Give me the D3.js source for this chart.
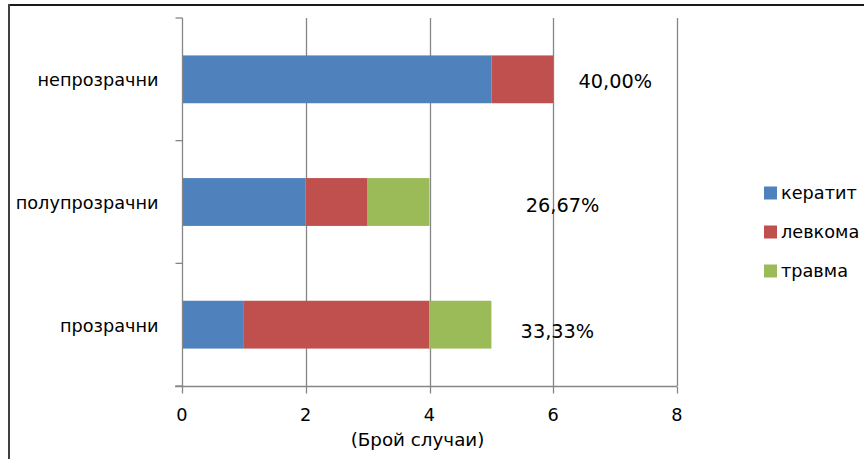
<!DOCTYPE html>
<html>
<head>
<meta charset="utf-8">
<script src="https://cdn.jsdelivr.net/npm/d3@7"></script>
<style>
  html, body { margin: 0; padding: 0; background: #fff; }
  svg { display: block; font-family: "DejaVu Sans", sans-serif; }
</style>
</head>
<body>
<svg id="chart" width="864" height="459"></svg>
<script>
// Categories, top to bottom
const categories = ["непрозрачни", "полупрозрачни", "прозрачни"];
// Series values (number of cases)
const keratit = [5, 2, 1];
const levkoma = [1, 1, 3];
const travma  = [0, 1, 1];
const seriesNames = ["кератит", "левкома", "травма"];
const shareLabels = ["40,00%", "26,67%", "33,33%"];
const xTicks = [0, 2, 4, 6, 8];
const axisTitle = "(Брой случаи)";

const colors = ["#4F81BD", "#C0504D", "#9BBB59"];

const svg = d3.select("#chart");
const W = 864, H = 459;
const plot = { left: 182, right: 677, top: 18, bottom: 386 };
const fontSize = 17.7;

// outer frame (top and left edges visible)
svg.append("line").attr("x1", 9).attr("x2", W).attr("y1", 5).attr("y2", 5)
  .attr("stroke", "#1a1a1a").attr("stroke-width", 2);
svg.append("line").attr("x1", 9).attr("x2", 9).attr("y1", 4).attr("y2", H)
  .attr("stroke", "#404040").attr("stroke-width", 2);

const x = d3.scaleLinear().domain([0, 8]).range([plot.left, plot.right]);
const y = d3.scaleBand().domain(categories).range([plot.top, plot.bottom]).paddingInner(0.61).paddingOuter(0.305);
const yOuter = d3.scaleBand().domain(categories).range([plot.top, plot.bottom]);

// vertical gridlines
svg.append("g").selectAll("line").data(xTicks.filter(d => d > 0)).join("line")
  .attr("x1", d => Math.round(x(d)) + 0.5).attr("x2", d => Math.round(x(d)) + 0.5)
  .attr("y1", plot.top).attr("y2", plot.bottom)
  .attr("stroke", "#868686").attr("stroke-width", 1.3);

// stacked bars
const rows = categories.map((c, i) => ({ cat: c, keratit: keratit[i], levkoma: levkoma[i], travma: travma[i] }));
const stack = d3.stack().keys(["keratit", "levkoma", "travma"])(rows);
svg.append("g").selectAll("g").data(stack).join("g")
  .attr("fill", (d, i) => colors[i])
  .selectAll("rect").data(d => d).join("rect")
  .attr("x", d => x(d[0]))
  .attr("width", d => x(d[1]) - x(d[0]))
  .attr("y", d => y(d.data.cat))
  .attr("height", y.bandwidth());

// y axis
const yAxisG = svg.append("g").attr("transform", `translate(${plot.left + 0.5},0)`);
yAxisG.append("line").attr("y1", plot.top).attr("y2", plot.bottom).attr("stroke", "#868686").attr("stroke-width", 1.3);
const yTickPos = categories.map(c => yOuter(c)).concat([plot.bottom]);
yAxisG.selectAll("line.t").data(yTickPos).join("line").attr("class", "t")
  .attr("x1", -7).attr("x2", 0).attr("y1", d => d).attr("y2", d => d)
  .attr("stroke", "#868686").attr("stroke-width", 1.3);
yAxisG.selectAll("text").data(categories).join("text")
  .attr("x", -24).attr("y", d => yOuter(d) + yOuter.bandwidth() / 2 + 1)
  .attr("text-anchor", "end").attr("dominant-baseline", "central")
  .attr("font-size", fontSize).attr("fill", "#000").text(d => d);

// x axis
const xAxisG = svg.append("g").attr("transform", `translate(0,${plot.bottom + 0.5})`);
xAxisG.append("line").attr("x1", plot.left - 7).attr("x2", plot.right).attr("stroke", "#868686").attr("stroke-width", 1.3);
xAxisG.selectAll("line.t").data(xTicks).join("line").attr("class", "t")
  .attr("x1", d => Math.round(x(d)) + 0.5).attr("x2", d => Math.round(x(d)) + 0.5)
  .attr("y1", 0).attr("y2", 7).attr("stroke", "#868686").attr("stroke-width", 1.3);
xAxisG.selectAll("text").data(xTicks).join("text")
  .attr("x", d => x(d)).attr("y", 28)
  .attr("text-anchor", "middle").attr("dominant-baseline", "central")
  .attr("font-size", fontSize).attr("fill", "#000").text(d => d);
svg.append("text").attr("x", x(4) - 12).attr("y", 439)
  .attr("text-anchor", "middle").attr("dominant-baseline", "central")
  .attr("font-size", 18.3).attr("fill", "#000").text(axisTitle);

// share labels beside each bar
const totals = rows.map(r => r.keratit + r.levkoma + r.travma);
const labelOffset = [62, 133, 66];
const labelDy = [2, 3, 7];
svg.append("g").selectAll("text").data(shareLabels).join("text")
  .attr("x", (d, i) => x(totals[i]) + labelOffset[i])
  .attr("y", (d, i) => y(categories[i]) + y.bandwidth() / 2 + labelDy[i])
  .attr("text-anchor", "middle").attr("dominant-baseline", "central")
  .attr("font-size", 19.3).attr("fill", "#000").text(d => d);

// legend
const legend = svg.append("g").attr("transform", "translate(764,0)");
const legY = [193, 232, 271];
seriesNames.forEach((name, i) => {
  legend.append("rect").attr("x", 0).attr("y", legY[i] - 6.5).attr("width", 13).attr("height", 13).attr("fill", colors[i]);
  legend.append("text").attr("x", 17).attr("y", legY[i])
    .attr("dominant-baseline", "central").attr("font-size", fontSize).attr("fill", "#000").text(name);
});
</script>
</body>
</html>
